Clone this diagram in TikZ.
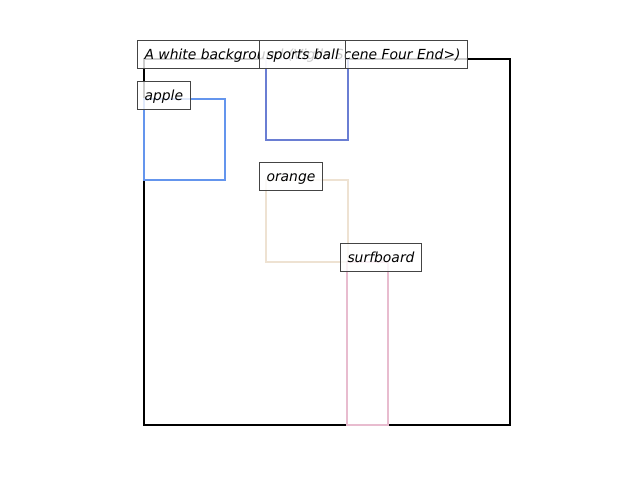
\documentclass[tikz,border=0pt]{standalone}
\usepackage{fontspec}
\setmainfont{DejaVu Sans}
\definecolor{frameblack}{HTML}{000000}
\definecolor{applecol}{HTML}{6495ED}
\definecolor{sportcol}{HTML}{6A7ED3}
\definecolor{orangecol}{HTML}{EEE2D2}
\definecolor{surfcol}{HTML}{E8BCCF}
\definecolor{labeledge}{HTML}{444444}
\begin{document}
\begin{tikzpicture}[x=1pt,y=1pt,
  objbox/.style={line width=2.5pt},
  lbl/.style={anchor=west, draw=labeledge, line width=1pt, fill=white, fill opacity=0.8, text opacity=1,
    inner xsep=7pt, inner ysep=0pt, minimum height=28pt, text height=12pt, text depth=2pt,
    font=\fontsize{13.9}{16}\selectfont\itshape}]
\useasboundingbox (0,0) rectangle (640,480);
\fill[white] (0,0) rectangle (640,480);
\draw[objbox, frameblack] (144,421) rectangle (510,55);
\draw[objbox, applecol] (144,381) rectangle (225,300);
\draw[objbox, sportcol] (266,421) rectangle (348,340);
\draw[objbox, orangecol] (266,300) rectangle (348,218);
\draw[objbox, surfcol] (347,218) rectangle (388,55);
\node[lbl] (caption) at (137,425.5) {A white background (Vigils Scene Four End>)};
\node[lbl] (apple) at (137,384.5) {apple};
\node[lbl] (sports) at (259,425.5) {sports ball};
\node[lbl] (orange) at (259,303.5) {orange};
\node[lbl] (surf) at (340,222.5) {surfboard};
\end{tikzpicture}
\end{document}
